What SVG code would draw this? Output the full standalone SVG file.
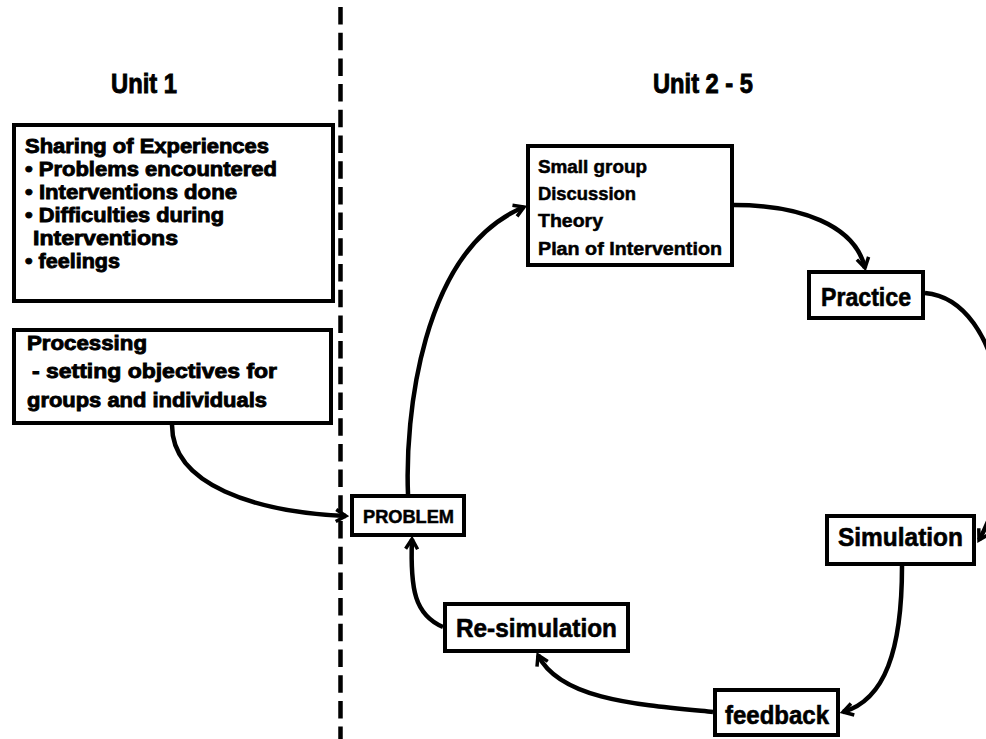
<svg xmlns="http://www.w3.org/2000/svg" width="986" height="739" viewBox="0 0 986 739">
<style>
  .box{fill:#fff;stroke:#000;stroke-width:4}
  .t{font-family:"Liberation Sans",Arial,sans-serif;font-weight:bold;fill:#000;stroke:#000}
  .l{font-size:21px;stroke-width:0.9}
  .s{font-size:18px;stroke-width:0.5}
  .m{font-size:26px;stroke-width:0.6}
  .c{fill:none;stroke:#000;stroke-width:4.5;marker-end:url(#ah)}
</style>
<defs>
  <marker id="ah" viewBox="0 0 16 16" markerUnits="userSpaceOnUse" markerWidth="16" markerHeight="16" refX="13" refY="8" orient="auto">
    <path d="M3,2 L13,8 L3,14" fill="none" stroke="#000" stroke-width="3.5" stroke-linejoin="miter"/>
  </marker>
</defs>
<rect width="986" height="739" fill="#fff"/>
<line id="divider" x1="340.5" y1="7" x2="340.5" y2="739" stroke="#000" stroke-width="4.5" stroke-dasharray="17.5 8.2"/>
<text class="t" x="111" y="93" font-size="27" stroke-width="0.9" textLength="66" lengthAdjust="spacingAndGlyphs">Unit 1</text>
<text class="t" x="653" y="93" font-size="27" stroke-width="0.9" textLength="100" lengthAdjust="spacingAndGlyphs">Unit 2 - 5</text>
<g id="connectors">
  <path class="c" d="M172,425 C172,485 255,512 346,516"/>
  <path class="c" d="M408,494 C405,420 420,250 524,207"/>
  <path class="c" d="M734,205 C800,205 855,225 865,268"/>
  <path class="c" d="M925,293 C1005,300 1025,460 979,540"/>
  <path class="c" d="M902,566 C902,650 885,700 843,712"/>
  <path class="c" d="M713,712 C640,705 560,700 538,655"/>
  <path class="c" d="M443,627 C415,615 410,590 412,539"/>
</g>
<g id="sharing">
  <rect class="box" x="14" y="125" width="319" height="176"/>
  <text class="t l" x="25" y="153" textLength="244" lengthAdjust="spacingAndGlyphs">Sharing of Experiences</text>
  <text class="t l" x="25" y="176" textLength="252" lengthAdjust="spacingAndGlyphs">• Problems encountered</text>
  <text class="t l" x="25" y="199" textLength="212" lengthAdjust="spacingAndGlyphs">• Interventions done</text>
  <text class="t l" x="25" y="222" textLength="199" lengthAdjust="spacingAndGlyphs">• Difficulties during</text>
  <text class="t l" x="33" y="245" textLength="145" lengthAdjust="spacingAndGlyphs">Interventions</text>
  <text class="t l" x="25" y="268" textLength="95" lengthAdjust="spacingAndGlyphs">• feelings</text>
</g>
<g id="processing">
  <rect class="box" x="14" y="330" width="317" height="93"/>
  <text class="t l" x="27" y="350" textLength="120" lengthAdjust="spacingAndGlyphs">Processing</text>
  <text class="t l" x="32" y="378" textLength="245" lengthAdjust="spacingAndGlyphs">- setting objectives for</text>
  <text class="t l" x="27" y="407" textLength="240" lengthAdjust="spacingAndGlyphs">groups and individuals</text>
</g>
<g id="smallgroup">
  <rect class="box" x="528" y="146" width="204" height="119"/>
  <text class="t s" x="538" y="173" textLength="109" lengthAdjust="spacingAndGlyphs">Small group</text>
  <text class="t s" x="538" y="200" textLength="98" lengthAdjust="spacingAndGlyphs">Discussion</text>
  <text class="t s" x="538" y="227" textLength="65" lengthAdjust="spacingAndGlyphs">Theory</text>
  <text class="t s" x="538" y="255" textLength="184" lengthAdjust="spacingAndGlyphs">Plan of Intervention</text>
</g>
<g id="problem">
  <rect class="box" x="352" y="496" width="112" height="39"/>
  <text class="t" x="363" y="523" font-size="19" stroke-width="0.5" textLength="91" lengthAdjust="spacingAndGlyphs">PROBLEM</text>
</g>
<g id="practice">
  <rect class="box" x="809" y="272" width="114" height="46"/>
  <text class="t m" x="821" y="306" textLength="90" lengthAdjust="spacingAndGlyphs">Practice</text>
</g>
<g id="simulation">
  <rect class="box" x="827" y="516" width="147" height="48"/>
  <text class="t m" x="838" y="546" textLength="125" lengthAdjust="spacingAndGlyphs">Simulation</text>
</g>
<g id="resimulation">
  <rect class="box" x="445" y="604" width="183" height="47"/>
  <text class="t m" x="456" y="637" textLength="161" lengthAdjust="spacingAndGlyphs">Re-simulation</text>
</g>
<g id="feedback">
  <rect class="box" x="715" y="690" width="123" height="45"/>
  <text class="t m" x="725" y="724" textLength="104" lengthAdjust="spacingAndGlyphs">feedback</text>
</g>
</svg>
